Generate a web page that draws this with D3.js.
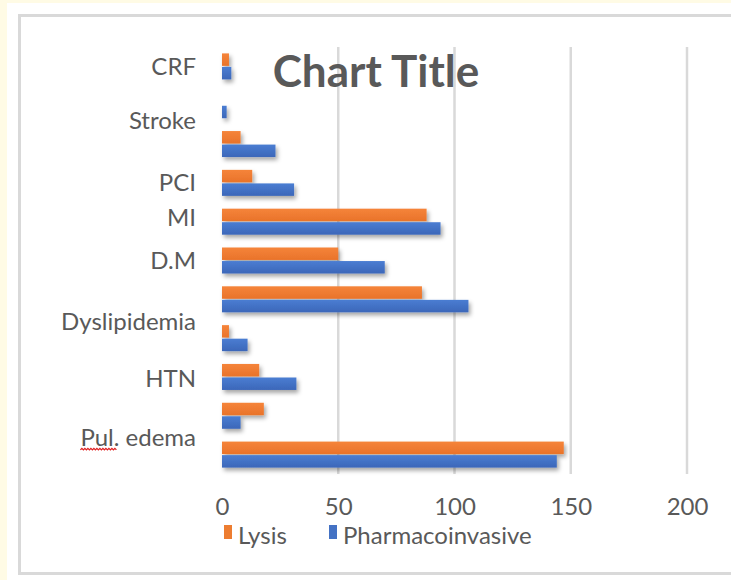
<!DOCTYPE html>
<html><head><meta charset="utf-8">
<script src="https://cdn.jsdelivr.net/npm/d3@7"></script>
<style>html,body{margin:0;padding:0;background:#fffbe5;}svg{display:block;}</style>
</head><body>
<svg id="c" width="731" height="580"></svg>
<script>
// ---- data (top to bottom) ----
const categories = ["CRF","Stroke","","PCI","MI","D.M","","Dyslipidemia","HTN","","Pul. edema"];
const lysis = [3, 0, 8, 13, 88, 50, 86, 3, 16, 18, 147];
const pharmacoinvasive = [4, 2, 23, 31, 94, 70, 106, 11, 32, 8, 144];
const seriesNames = ["Lysis","Pharmacoinvasive"];
const xTicks = [0, 50, 100, 150, 200];
const tickLabels = ["CRF","Stroke","PCI","MI","D.M","Dyslipidemia","HTN","Pul. edema"];
const tickAt = [0, 1.4, 3, 3.9, 5, 6.57, 8.05, 9.57]; // category units
const title = "Chart Title";

// ---- layout ----
const colors = {Lysis:"#ED7D31", Pharmacoinvasive:"#4472C4"};
const svg = d3.select("#c");
const font = "Lato, Carlito, Calibri, sans-serif";
const textCol = "#595959";

svg.append("rect").attr("x",7).attr("y",3).attr("width",724).attr("height",577).attr("fill","#fff");
svg.append("rect").attr("x",19.5).attr("y",15.5).attr("width",720).attr("height",558)
  .attr("fill","#fff").attr("stroke","#d9d9d9").attr("stroke-width",3);

const defs = svg.append("defs");
const f = defs.append("filter").attr("id","sh").attr("x","-10%").attr("y","-50%").attr("width","130%").attr("height","250%");
f.append("feDropShadow").attr("dx",2).attr("dy",3).attr("stdDeviation",2).attr("flood-color","#000").attr("flood-opacity",0.35);
[["gO","#F5843A","#E9732A"],["gB","#4A7DD2","#3C67B9"]].forEach(([id,a,b])=>{
  const g = defs.append("linearGradient").attr("id",id).attr("x1",0).attr("y1",0).attr("x2",0).attr("y2",1);
  g.append("stop").attr("offset","0%").attr("stop-color",a);
  g.append("stop").attr("offset","100%").attr("stop-color",b);
});
const fills = {Lysis:"url(#gO)", Pharmacoinvasive:"url(#gB)"};

const x = d3.scaleLinear().domain([0,200]).range([222,687]);
const y = d3.scaleBand().domain(d3.range(categories.length)).range([47,474]).paddingInner(0.33).paddingOuter(0.165);
const ys = d3.scaleBand().domain(seriesNames).range([0,y.bandwidth()]).paddingInner(0.08);

// gridlines
svg.append("g").selectAll("line").data(xTicks.slice(1)).join("line")
  .attr("x1",d=>x(d)).attr("x2",d=>x(d)).attr("y1",47).attr("y2",474)
  .attr("stroke","#d9d9d9").attr("stroke-width",2.5);

// bars
const rows = categories.map((c,i)=>({i, Lysis:lysis[i], Pharmacoinvasive:pharmacoinvasive[i]}));
const gBars = svg.append("g").attr("filter","url(#sh)");
rows.forEach(r=>{
  seriesNames.forEach(s=>{
    if (r[s] <= 0) return;
    gBars.append("rect").attr("x",x(0)).attr("y",y(r.i)+ys(s))
      .attr("width",x(r[s])-x(0)).attr("height",ys.bandwidth()).attr("fill",fills[s]);
  });
});

// x axis labels
const xAxis = d3.axisBottom(x).tickValues(xTicks).tickSize(0).tickPadding(0);
const gx = svg.append("g").attr("transform","translate(0,514.5)").call(xAxis);
gx.select(".domain").remove();
gx.selectAll("text").attr("font-family",font).attr("font-size",24).attr("fill",textCol).attr("dy",0);

// y labels
const step = y.step();
const yl = svg.append("g").selectAll("text").data(tickLabels).join("text")
  .attr("x",196).attr("y",(d,k)=>y(0)+y.bandwidth()/2+tickAt[k]*step)
  .attr("dy","0.35em").attr("text-anchor","end")
  .attr("font-family",font).attr("font-size",24).attr("fill",textCol).text(d=>d);

// red squiggle under "Pul"
yl.filter(d=>d.startsWith("Pul")).each(function(){
  const len = this.getComputedTextLength();
  const sub = this.getSubStringLength(0,3);
  const x0 = 196 - len, yy = +this.getAttribute("y") + 12;
  let p = `M${x0},${yy}`;
  for (let t = x0; t < x0+sub; t += 3) p += ` l1.5,-1.5 l1.5,1.5`;
  svg.append("path").attr("d",p).attr("fill","none").attr("stroke","#e02020").attr("stroke-width",1.2);
});

// title
svg.append("text").attr("x",376).attr("y",87).attr("text-anchor","middle")
  .attr("font-family",font).attr("font-weight","bold").attr("font-size",44)
  .attr("fill",textCol).text(title);

// legend
const leg = svg.append("g");
const legX = [224, 329];
seriesNames.forEach((s,k)=>{
  leg.append("rect").attr("x",legX[k]).attr("y",525).attr("width",8).attr("height",14).attr("fill",colors[s]);
  leg.append("text").attr("x",legX[k]+14).attr("y",543.5)
    .attr("font-family",font).attr("font-size",24).attr("fill",textCol).text(s);
});
</script>
</body></html>
